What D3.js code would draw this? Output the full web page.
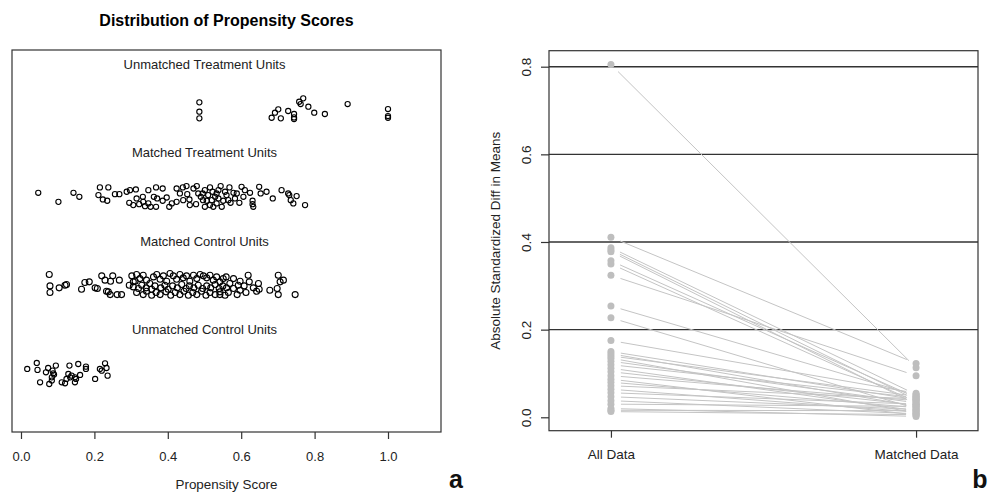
<!DOCTYPE html>
<meta charset="utf-8">
<style>
body { margin: 0; background: #fff; }
svg { font-family: "Liberation Sans", Arial, Helvetica, sans-serif; }
.box { fill: none; stroke: #333; stroke-width: 1.2px; }
.pt { fill: none; stroke: #000; stroke-width: 1.1px; }
.tick line { stroke: #333; stroke-width: 1.2px; }
.tick text { font-size: 13px; fill: #222; }
.glabel { font-size: 13px; fill: #222; text-anchor: middle; }
.hline { stroke: #333; stroke-width: 1.4px; }
.link { stroke: #c4c4c4; stroke-width: 1px; fill: none; }
.dot { fill: #bebebe; }
.panel { font-weight: bold; font-size: 25px; fill: #111; text-anchor: middle; }
</style>
<svg id="chart" width="990" height="494"></svg>
<script src="https://d3js.org/d3.v7.min.js"></script>
<script>
// --- panel a: jittered propensity scores, jitter is in row units (+ = down)
var groupLabels = ["Unmatched Control Units", "Matched Control Units", "Matched Treatment Units", "Unmatched Treatment Units"];
var scoreTicks = [0, 0.2, 0.4, 0.6, 0.8, 1.0];

var unmatchedTreatScore = [0.486,0.486,0.486,0.683,0.692,0.701,0.708,0.728,0.744,0.744,0.744,0.758,0.762,0.769,0.783,0.799,0.828,0.890,1.0,1.0,1.0];
var unmatchedTreatJitter = [-0.068,0.038,0.113,0.106,0.049,0.011,0.113,0.030,0.064,0.102,0.121,-0.075,-0.049,-0.113,-0.019,0.049,0.064,-0.049,0.008,0.087,0.106];

var matchedTreatScore = [0.047,0.102,0.143,0.159,0.215,0.238,0.211,0.223,0.235,0.256,0.268,0.288,0.297,0.313,0.295,0.306,0.322,0.332,0.333,0.338,
  0.347,0.353,0.368,0.368,0.386,0.362,0.371,0.386,0.397,0.404,0.411,0.424,0.433,0.441,0.451,0.453,0.459,0.470,0.479,0.477,
  0.490,0.495,0.501,0.506,0.515,0.522,0.529,0.533,0.538,0.544,0.551,0.560,0.568,0.571,0.579,0.583,0.595,0.601,0.610,0.606,
  0.624,0.631,0.633,0.649,0.653,0.669,0.686,0.710,0.728,0.735,0.751,0.742,0.774,0.442,0.501,0.524,0.547,0.460,0.424,0.483,
  0.515,0.556,0.315,0.347,0.496,0.520,0.533,0.565,0.588,0.510,0.538,0.631,0.731];
var matchedTreatJitter = [-0.045,0.057,-0.045,0,-0.106,-0.106,-0.019,0.030,0.045,-0.030,-0.030,-0.057,-0.075,-0.083,0.068,0.094,0.083,0,0.057,0.106,
  0.075,0.113,0.113,-0.106,-0.094,0,0.019,0.045,0.008,0.113,0.075,-0.094,-0.038,-0.106,-0.121,-0.030,0.030,-0.094,-0.121,0.083,
  0,-0.038,-0.075,0.045,0.094,-0.057,0,0.075,-0.075,-0.121,0.045,-0.019,-0.106,0.068,-0.045,0.019,0.068,-0.113,-0.075,0,
  -0.045,0.083,0.113,-0.113,-0.038,-0.057,0.019,-0.075,-0.038,0.038,-0.008,0.075,0.094,0.038,0.113,0.113,0.113,0.094,0.057,-0.038,
  -0.106,-0.057,0.019,-0.075,0.038,0.038,-0.038,0.038,-0.038,-0.019,0.019,0.045,-0.019];

var matchedControlScore = [0.077,0.079,0.079,0.104,0.120,0.124,0.165,0.174,0.186,0.202,0.208,0.220,0.229,0.244,0.250,0.268,0.233,0.243,0.262,0.274,0.238,
  0.302,0.311,0.315,0.324,0.333,0.342,0.351,0.361,0.370,0.379,0.388,0.397,0.406,0.415,0.424,0.433,0.442,0.451,0.460,0.470,0.479,0.488,0.497,0.506,0.515,0.524,0.533,0.542,0.551,
  0.306,0.320,0.329,0.341,0.356,0.365,0.381,0.392,0.401,0.413,0.426,0.438,0.450,0.459,0.471,0.483,0.495,0.506,0.517,0.529,0.540,0.550,0.560,
  0.315,0.333,0.342,0.356,0.368,0.379,0.395,0.408,0.420,0.433,0.444,0.456,0.468,0.479,0.492,0.504,0.515,0.529,0.542,0.556,0.565,
  0.559,0.579,0.597,0.608,0.619,0.622,0.633,0.642,0.649,0.579,0.597,0.589,0.613,0.678,0.701,0.706,0.715,0.698,0.701,0.747,0.569,0.592,0.647,0.542,0.306,0.295];
var matchedControlJitter = [-0.121,0.008,0.083,0.030,0,-0.008,0.045,-0.030,-0.038,0.030,0.038,-0.106,-0.057,-0.045,-0.106,-0.057,0.068,0.106,0.106,0.106,0.075,
  -0.106,-0.045,-0.121,-0.075,-0.113,-0.057,-0.019,-0.094,-0.121,-0.068,-0.106,-0.045,-0.132,-0.106,-0.068,-0.121,-0.083,-0.106,-0.045,-0.113,-0.075,-0.121,-0.106,-0.083,-0.113,-0.057,-0.094,-0.038,-0.075,
  0.019,0.038,0,0.030,0.045,0.008,0.030,0,0.045,0.008,0.030,-0.008,0.038,0.008,0.030,0,0.038,0.008,0.030,-0.008,0.038,0.008,0.030,
  0.083,0.106,0.068,0.113,0.083,0.106,0.075,0.113,0.083,0.106,0.068,0.113,0.083,0.106,0.068,0.113,0.083,0.106,0.075,0.113,0.083,
  -0.094,-0.075,-0.045,0.008,-0.113,-0.038,0.030,0.068,0.045,0.038,0.057,0.106,0.083,0.057,-0.113,-0.038,-0.057,0.038,0.106,0.106,-0.019,0,-0.019,0.106,-0.038,0];

var unmatchedControlScore = [0.017,0.043,0.045,0.052,0.068,0.074,0.077,0.084,0.086,0.090,0.095,0.084,0.111,0.120,0.124,0.129,0.132,0.134,0.138,0.147,
  0.150,0.156,0.161,0.177,0.177,0.202,0.215,0.220,0.229,0.233,0.236,0.088,0.147];
var unmatchedControlJitter = [-0.053,-0.121,-0.042,0.098,-0.015,-0.064,0.117,0.079,-0.034,0.011,-0.091,0.042,0.098,0.109,0.060,0.004,-0.091,0.042,0.023,0.098,
  0.060,-0.109,0.015,-0.079,-0.053,0.060,-0.053,-0.034,-0.117,-0.064,0.023,-0.004,0.042];

// --- panel b: balance before / after matching
var sampleLabels = ["All Data", "Matched Data"];
var diffTicks = [0, 0.2, 0.4, 0.6, 0.8];
var allDataDiff = [0.805,0.411,0.387,0.382,0.378,0.357,0.350,0.324,0.254,0.227,0.175,0.150,0.145,0.140,0.135,0.128,
  0.120,0.112,0.104,0.095,0.087,0.080,0.072,0.064,0.056,0.047,0.038,0.030,0.020,0.016,0.013];
var matchedDataDiff = [0.113,0.123,0.052,0.040,0.030,0.045,0.035,0.095,0.050,0.020,0.055,0.040,0.025,0.048,0.010,0.033,
  0.045,0.015,0.028,0.038,0.005,0.022,0.042,0.012,0.030,0.018,0.008,0.025,0.002,0.015,0.006];

var svg = d3.select("#chart");
var fmt = d3.format(".1f");

// ---------- panel a
var x1 = d3.scaleLinear().domain([-0.0245, 1.1444]).range([12, 441]);
var y1 = d3.scaleLinear().domain([-0.66, 3.66]).range([432, 50]);

var pa = svg.append("g");
pa.append("rect").attr("class", "box")
    .attr("x", x1.range()[0]).attr("y", y1.range()[1])
    .attr("width", x1.range()[1] - x1.range()[0])
    .attr("height", y1.range()[0] - y1.range()[1]);

pa.append("text")
    .attr("x", d3.mean(x1.range())).attr("y", 25.5)
    .attr("text-anchor", "middle")
    .style("font-weight", "bold").style("font-size", "16px")
    .text("Distribution of Propensity Scores");

var groups = [
  {row: 3, score: unmatchedTreatScore, jit: unmatchedTreatJitter, r: 2.6},
  {row: 2, score: matchedTreatScore, jit: matchedTreatJitter, r: 2.6},
  {row: 1, score: matchedControlScore, jit: matchedControlJitter, r: 3.0},
  {row: 0, score: unmatchedControlScore, jit: unmatchedControlJitter, r: 2.6}
];

groups.forEach(function(g) {
  pa.append("g").selectAll("circle")
      .data(g.score.map(function(s, i) { return [s, g.jit[i]]; }))
    .enter().append("circle")
      .attr("class", "pt")
      .attr("cx", function(d) { return x1(d[0]); })
      .attr("cy", function(d) { return y1(g.row - d[1]); })
      .attr("r", g.r);
});

pa.selectAll(".glabel")
    .data(groupLabels)
  .enter().append("text")
    .attr("class", "glabel")
    .attr("x", x1(0.5))
    .attr("y", function(d, i) { return y1(i + 0.5); })
    .attr("dy", "0.35em")
    .text(function(d) { return d; });

var ax1 = pa.append("g")
    .attr("transform", "translate(0," + y1.range()[0] + ")")
    .call(d3.axisBottom(x1).tickValues(scoreTicks).tickFormat(fmt).tickSize(7).tickPadding(13));
ax1.select(".domain").remove();
ax1.selectAll("text").style("font-family", "inherit");

pa.append("text")
    .attr("x", d3.mean(x1.range())).attr("y", 489)
    .attr("text-anchor", "middle").style("font-size", "13.4px").style("fill", "#222")
    .text("Propensity Score");

pa.append("text").attr("class", "panel").attr("x", 456).attr("y", 488).text("a");

// ---------- panel b
var x2 = d3.scaleLinear().domain([0.797, 2.203]).range([549, 978]);
var y2 = d3.scaleLinear().domain([-0.0306, 0.8365]).range([430.7, 50.7]);

var pb = svg.append("g");

pb.selectAll(".hline")
    .data(diffTicks.filter(function(d) { return d > 0; }))
  .enter().append("line")
    .attr("class", "hline")
    .attr("x1", x2.range()[0]).attr("x2", x2.range()[1])
    .attr("y1", function(d) { return y2(d); }).attr("y2", function(d) { return y2(d); });

// lines leave a small gap round each point, like R's type = "b"
var gap = 10;
pb.append("g").selectAll("line")
    .data(allDataDiff.map(function(v, i) { return [v, matchedDataDiff[i]]; }))
  .enter().append("line")
    .attr("class", "link")
    .each(function(d) {
      var ax = x2(1), ay = y2(d[0]), bx = x2(2), by = y2(d[1]);
      var dx = bx - ax, dy = by - ay, L = Math.sqrt(dx * dx + dy * dy);
      d3.select(this)
        .attr("x1", ax + dx * gap / L).attr("y1", ay + dy * gap / L)
        .attr("x2", bx - dx * gap / L).attr("y2", by - dy * gap / L);
    });

pb.append("g").selectAll("circle")
    .data(allDataDiff.map(function(v) { return [1, v]; })
      .concat(matchedDataDiff.map(function(v) { return [2, v]; })))
  .enter().append("circle")
    .attr("class", "dot")
    .attr("cx", function(d) { return x2(d[0]); })
    .attr("cy", function(d) { return y2(d[1]); })
    .attr("r", 3.5);

pb.append("rect").attr("class", "box")
    .attr("x", x2.range()[0]).attr("y", y2.range()[1])
    .attr("width", x2.range()[1] - x2.range()[0])
    .attr("height", y2.range()[0] - y2.range()[1]);

var ax2 = pb.append("g")
    .attr("transform", "translate(0," + y2.range()[0] + ")")
    .call(d3.axisBottom(x2).tickValues([1, 2]).tickFormat(function(d, i) { return sampleLabels[i]; }).tickSize(7).tickPadding(12));
ax2.select(".domain").remove();
ax2.selectAll("text").style("font-family", "inherit").style("font-size", "13.5px");

var ay2 = pb.append("g")
    .attr("transform", "translate(" + x2.range()[0] + ",0)")
    .call(d3.axisLeft(y2).tickValues(diffTicks).tickFormat(fmt).tickSize(8));
ay2.select(".domain").remove();
ay2.selectAll("text")
    .style("font-family", "inherit").style("font-size", "13.5px")
    .attr("x", null).attr("dy", null)
    .attr("text-anchor", "middle")
    .attr("transform", "translate(-18,0) rotate(-90)");

pb.append("text")
    .attr("transform", "translate(500," + d3.mean(y2.range()) + ") rotate(-90)")
    .attr("text-anchor", "middle").style("font-size", "13.5px").style("fill", "#222")
    .text("Absolute Standardized Diff in Means");

pb.append("text").attr("class", "panel").attr("x", 980).attr("y", 488).text("b");
</script>
